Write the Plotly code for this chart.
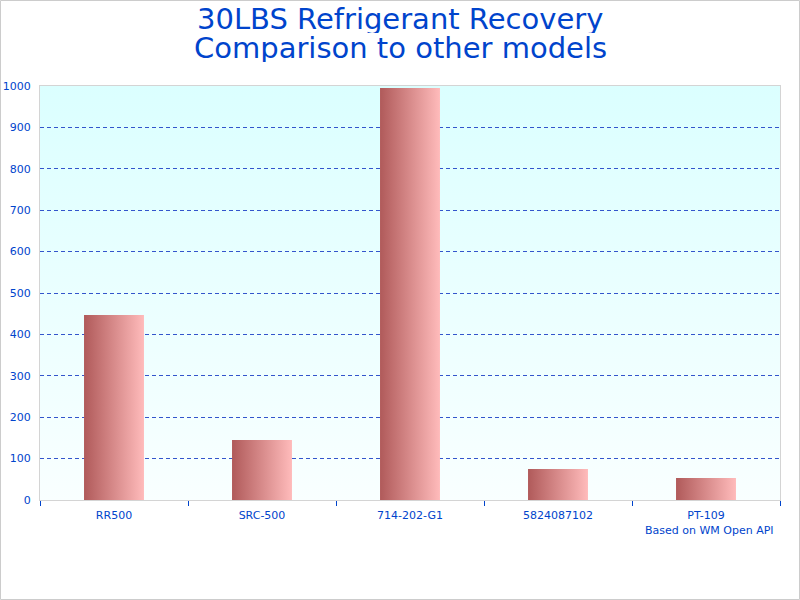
import base64
import plotly.graph_objects as go

# ---- data ----
categories = ["RR500", "SRC-500", "714-202-G1", "5824087102", "PT-109"]
values = [447, 145, 995, 75, 53]
y_ticks = [0, 100, 200, 300, 400, 500, 600, 700, 800, 900, 1000]

title_lines = ["30LBS Refrigerant Recovery", "Comparison to other models"]
credit_text = "Based on WM Open API"

# ---- style ----
BLUE = "#0044CC"
GRID = "#3355CC"
FRAME = "#D4D4D4"
BAR_DARK = "#B05A5A"
BAR_LIGHT = "#FFBBBB"
BAR_WIDTH = 0.405
FONT = "DejaVu Sans"

W, H = 800, 600
ML, MR, MT, MB = 40, 20, 86, 100
pw, ph = W - ML - MR, H - MT - MB

fig = go.Figure()

# bars as gradient-filled rectangles computed from the data
for i, (cat, v) in enumerate(zip(categories, values)):
    x0, x1 = i - BAR_WIDTH / 2, i + BAR_WIDTH / 2
    fig.add_trace(go.Scatter(
        x=[x0, x1, x1, x0, x0], y=[0, 0, v, v, 0],
        mode="lines", line=dict(width=0), fill="toself",
        fillgradient=dict(type="horizontal",
                          colorscale=[[0, BAR_DARK], [1, BAR_LIGHT]]),
        name=cat, hoverinfo="text", text=f"{cat}: {v}", showlegend=False,
    ))

# plot-area gradient background (svg image, below gridlines)
svg = ('<svg xmlns="http://www.w3.org/2000/svg" width="100" height="100" '
       'preserveAspectRatio="none" viewBox="0 0 100 100">'
       '<defs><linearGradient id="g" x1="0" y1="0" x2="0" y2="1">'
       '<stop offset="0" stop-color="#DBFFFF"/>'
       '<stop offset="1" stop-color="#F9FFFF"/></linearGradient></defs>'
       '<rect width="100" height="100" fill="url(#g)"/></svg>')
src = "data:image/svg+xml;base64," + base64.b64encode(svg.encode()).decode()
fig.add_layout_image(dict(source=src, xref="paper", yref="paper", x=0, y=1,
                          sizex=1, sizey=1, sizing="stretch", layer="below",
                          xanchor="left", yanchor="top"))

n = len(categories)
fig.update_xaxes(
    range=[-0.5, n - 0.5], tickvals=list(range(n)), ticktext=categories,
    ticks="", showgrid=False, zeroline=False, automargin=False,
    showline=True, linecolor=FRAME, linewidth=1, mirror=True,
    tickfont=dict(family=FONT, size=11, color=BLUE),
    ticklabelstandoff=5,
    minor=dict(tickvals=[i - 0.5 for i in range(n + 1)], ticks="outside",
               ticklen=5, tickcolor=BLUE, tickwidth=1, showgrid=False),
    fixedrange=True,
)
fig.update_yaxes(
    range=[0, 1000], tickvals=y_ticks, ticks="", automargin=False,
    showgrid=True, gridcolor=GRID, griddash="4px,3px", gridwidth=1,
    zeroline=False, showline=True, linecolor=FRAME, linewidth=1, mirror=True,
    tickfont=dict(family=FONT, size=11, color=BLUE),
    ticklabelstandoff=6, fixedrange=True,
)

# outer frame
fig.add_shape(type="rect", xref="paper", yref="paper",
              x0=(0.5 - ML) / pw, x1=(W - 0.5 - ML) / pw,
              y0=-(H - 0.5 - MT - ph) / ph, y1=(MT - 0.5) / ph + 1,
              line=dict(color="#CCCCCC", width=1), layer="above")

# two-line title as annotations (tighter line spacing than plotly titles)
for k, (line, ypx) in enumerate(zip(title_lines, [19, 48])):
    fig.add_annotation(text=line, xref="paper", yref="paper",
                       x=(W / 2 - ML) / pw, y=1 + (MT - ypx) / ph,
                       xanchor="center", yanchor="middle", showarrow=False,
                       height=28, borderpad=0,
                       font=dict(family=FONT, size=29, color=BLUE))

fig.add_annotation(text=credit_text, xref="paper", yref="paper",
                   x=(776 - ML) / pw, y=-30 / ph, xanchor="right",
                   yanchor="middle", showarrow=False,
                   font=dict(family=FONT, size=11, color=BLUE))

fig.update_layout(
    width=W, height=H, margin=dict(l=ML, r=MR, t=MT, b=MB, autoexpand=False),
    paper_bgcolor="white", plot_bgcolor="rgba(0,0,0,0)",
    showlegend=False,
)

fig.write_html("out.html")
